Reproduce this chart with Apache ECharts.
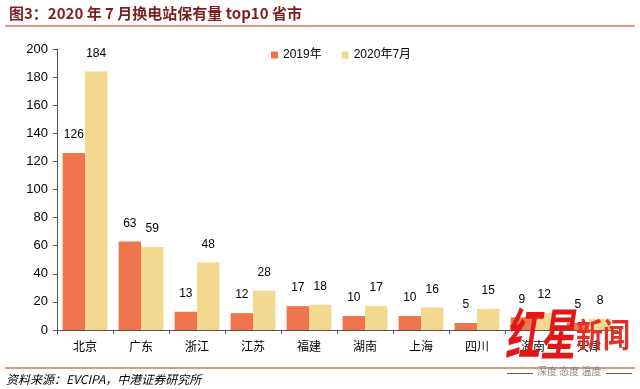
<!DOCTYPE html>
<html><head><meta charset="utf-8">
<script src="https://cdn.jsdelivr.net/npm/echarts@6/dist/echarts.min.js"></script>
<style>html,body{margin:0;padding:0;background:#fff;}#c{width:640px;height:389px;}</style>
</head><body><div id="c"></div>
<script>
const categories = ['北京','广东','浙江','江苏','福建','湖南','上海','四川','海南','天津'];
const values2019 = [126, 63, 13, 12, 17, 10, 10, 5, 9, 5];
const values2020 = [184, 59, 48, 28, 18, 17, 16, 15, 12, 8];
const seriesNames = ['2019年','2020年7月'];
const yTicks = {min: 0, max: 200, interval: 20};

const chart = echarts.init(document.getElementById('c'), null, {renderer:'canvas'});
const labelStyle = {show:true, position:'top', color:'#000', fontSize:12, fontFamily:'Arial, Liberation Sans', distance:12};
chart.setOption({
  backgroundColor:'#fff',
  animation:false,
  title:{
    text:'图3：2020 年 7 月换电站保有量 top10 省市',
    left:4, top:1,
    textStyle:{color:'#7a1e1e', fontSize:15, fontWeight:'bold', fontFamily:'Noto Sans CJK SC'}
  },
  legend:{
    data:seriesNames, left:266, top:44, itemWidth:7, itemHeight:7, itemGap:20,
    icon:'rect',
    textStyle:{fontSize:12, color:'#000', fontFamily:'Arial, Liberation Sans, Noto Sans CJK SC'}
  },
  grid:{left:57, right:23, top:49, bottom:59},
  xAxis:{
    type:'category', data:categories,
    axisLine:{lineStyle:{color:'#555', width:1}},
    axisTick:{show:true, length:4, lineStyle:{color:'#555'}},
    axisLabel:{color:'#000', fontSize:12, margin:10, fontFamily:'Noto Sans CJK SC'}
  },
  yAxis:{
    type:'value', min:yTicks.min, max:yTicks.max, interval:yTicks.interval,
    splitLine:{show:false},
    axisLine:{show:true, lineStyle:{color:'#555', width:1}},
    axisTick:{show:true, length:4, lineStyle:{color:'#555'}},
    axisLabel:{color:'#000', fontSize:13, margin:9, fontFamily:'Arial, Liberation Sans'}
  },
  series:[
    {name:seriesNames[0], type:'bar', data:values2019, barGap:'0%', barCategoryGap:'20%',
     itemStyle:{color:'#f0744c'}, label:labelStyle},
    {name:seriesNames[1], type:'bar', data:values2020,
     itemStyle:{color:'#f2d98f'}, label:labelStyle}
  ],
  graphic:[
    {type:'rect', z:100, shape:{x:5, y:25, width:630, height:2}, style:{fill:'#d99a84'}},
    {type:'rect', z:100, shape:{x:5, y:367, width:630, height:2}, style:{fill:'#d99a84'}},
    {type:'text', z:100, left:6, top:373, style:{text:'资料来源：EVCIPA，中港证券研究所', fill:'#000', font:'italic 12px "Noto Sans CJK SC"'}},
    {type:'text', z:100, x:505, y:306, scaleY:1.6, style:{text:'红星', fill:'#e01818', font:'italic bold 35px "Noto Sans CJK SC"'}},
    {type:'text', z:100, x:576, y:318, scaleY:1.2, style:{text:'新闻', fill:'#e0302a', font:'bold 27px "Noto Sans CJK SC"'}},
    {type:'text', z:100, left:537, top:366, style:{text:'深度 态度 温度', fill:'#888', font:'10px "Noto Sans CJK SC"'}},
    {type:'rect', z:100, shape:{x:507, y:373, width:26, height:1}, style:{fill:'#555'}},
    {type:'rect', z:100, shape:{x:606, y:373, width:26, height:1}, style:{fill:'#555'}}
  ]
});
</script></body></html>
